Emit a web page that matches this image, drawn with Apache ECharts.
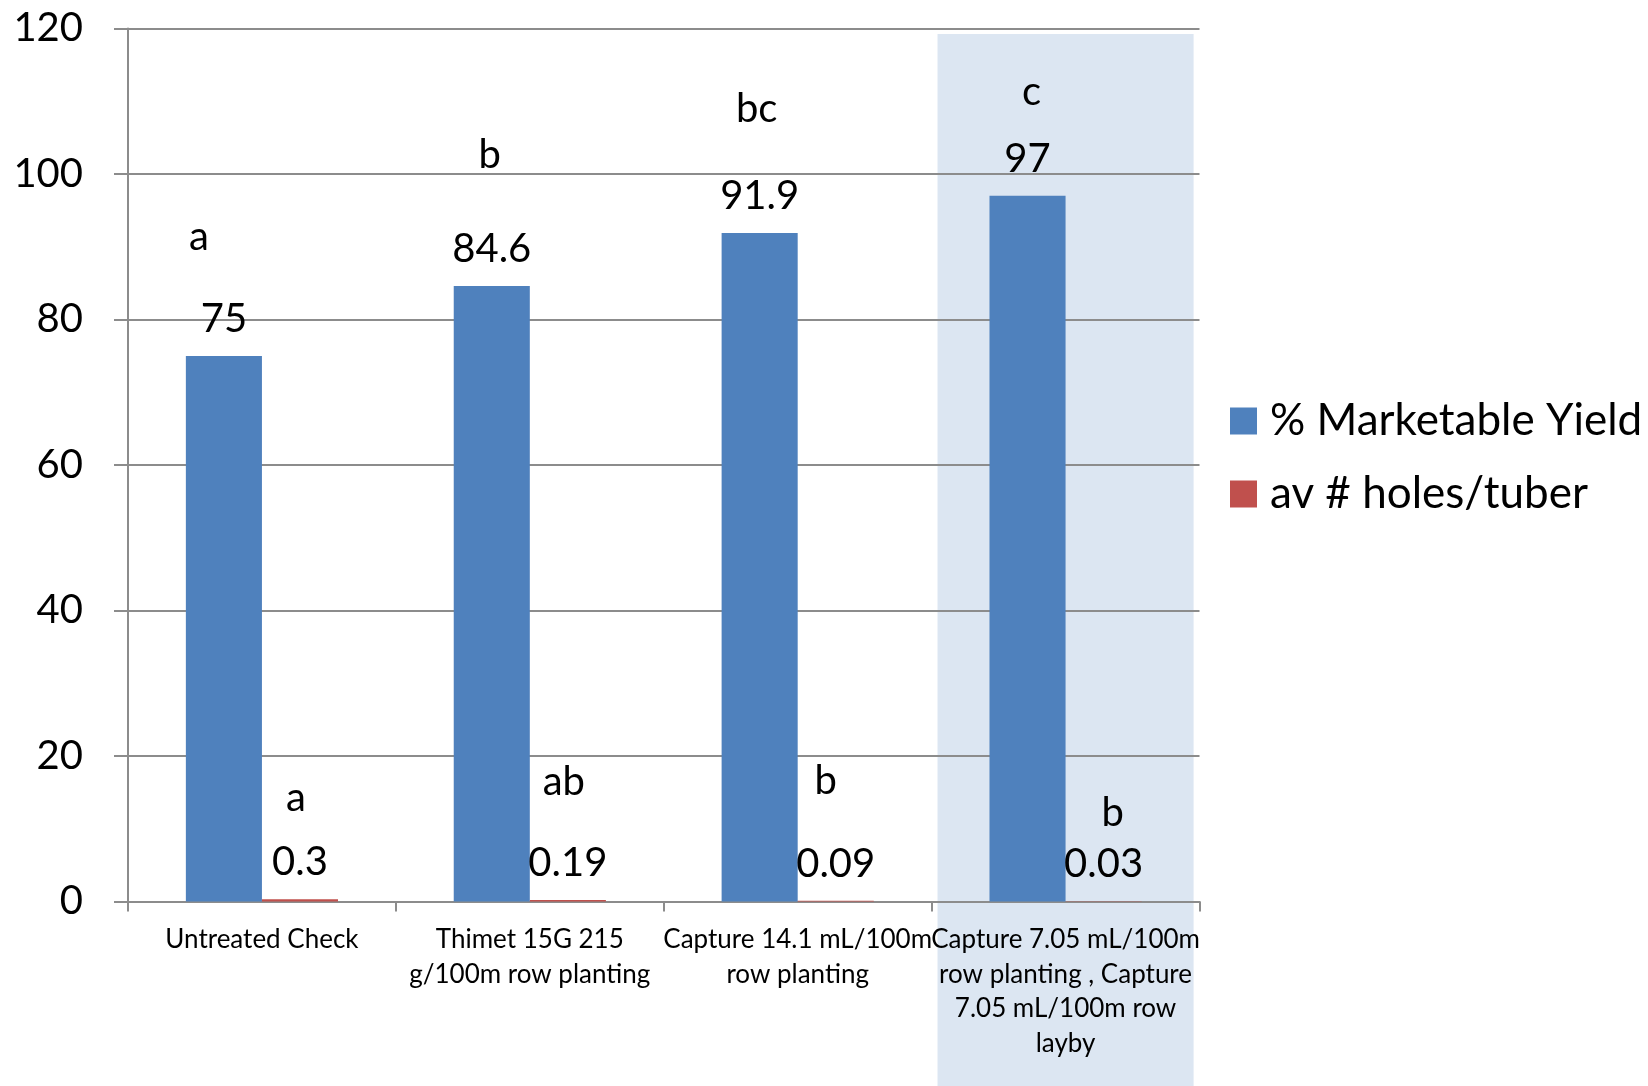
<!DOCTYPE html>
<html>
<head>
<meta charset="utf-8">
<script src="https://cdn.jsdelivr.net/npm/echarts@6/dist/echarts.min.js"></script>
<style>
  html, body { margin: 0; padding: 0; background: #ffffff; }
  #chart { width: 1648px; height: 1086px; }
</style>
</head>
<body>
<div id="chart"></div>
<script>
// ---- data ----
const categories = [
  'Untreated Check',
  'Thimet 15G 215\ng/100m row planting',
  'Capture 14.1 mL/100m\nrow planting',
  'Capture 7.05 mL/100m\nrow planting , Capture\n7.05 mL/100m row\nlayby'
];
const seriesNames = ['% Marketable Yield', 'av # holes/tuber'];
const yieldValues = [75, 84.6, 91.9, 97];
const holesValues = [0.3, 0.19, 0.09, 0.03];
const yieldLetters = ['a', 'b', 'bc', 'c'];
const holesLetters = ['a', 'ab', 'b', 'b'];
const yMin = 0, yMax = 120, yInterval = 20;

// ---- layout (pixel shifts of the significance letters relative to their value label baseline) ----
const yieldLetterShift = [[-25, -82], [-2, -94], [-3, -87], [4, -67]];
const holesLetterShift = [[-4, -64], [-4, -81], [-10, -83], [9, -51]];

const FONT = 'Lato';
const GRID = { left: 128, right: 448.5, top: 28.5, bottom: 184.5 };
const barRatio = 0.284;
const LABEL_FS = 40, LABEL_LH = 40, LABEL_DIST = 17;
const BASE_TO_MID = 12.9; // baseline sits this far below the line middle

function letterMarks(values, letters, shifts) {
  return values.map((v, i) => ({
    name: letters[i],
    coord: [categories[i], v],
    label: {
      offset: [shifts[i][0], -LABEL_DIST - LABEL_LH / 2 + shifts[i][1]]
    }
  }));
}

const markBase = {
  symbol: 'rect',
  symbolSize: 1,
  silent: true,
  itemStyle: { color: 'rgba(0,0,0,0)' },
  label: {
    show: true,
    position: 'inside',
    formatter: p => p.name,
    color: '#000',
    fontFamily: FONT,
    fontSize: LABEL_FS,
    lineHeight: LABEL_LH
  },
  emphasis: { disabled: true }
};

const valueLabel = {
  show: true,
  position: 'top',
  distance: LABEL_DIST,
  color: '#000',
  fontFamily: FONT,
  fontSize: LABEL_FS,
  lineHeight: LABEL_LH
};

const chart = echarts.init(document.getElementById('chart'), null, { renderer: 'canvas' });

const option = {
  animation: false,
  backgroundColor: '#ffffff',
  textStyle: { fontFamily: FONT },
  grid: Object.assign({ containLabel: false }, GRID),
  legend: {
    orient: 'vertical',
    left: 1230,
    top: 398,
    padding: 0,
    itemWidth: 27,
    itemHeight: 27,
    itemGap: 27,
    icon: 'rect',
    selectedMode: false,
    data: seriesNames,
    textStyle: { fontFamily: FONT, fontSize: 44, lineHeight: 46, color: '#000', padding: [0, 0, 0, 8] }
  },
  xAxis: {
    type: 'category',
    data: categories,
    boundaryGap: true,
    axisLine: { show: true, lineStyle: { color: '#8c8c8c', width: 2 } },
    axisTick: { show: true, alignWithLabel: false, length: 10, lineStyle: { color: '#8c8c8c', width: 2 } },
    axisLabel: {
      interval: 0,
      hideOverlap: false,
      margin: 21,
      color: '#000',
      fontFamily: FONT,
      fontSize: 26,
      lineHeight: 34.5,
      align: 'center'
    },
    splitLine: { show: false }
  },
  yAxis: {
    type: 'value',
    min: yMin,
    max: yMax,
    interval: yInterval,
    axisLine: { show: true, lineStyle: { color: '#8c8c8c', width: 2 } },
    axisTick: { show: true, length: 14, lineStyle: { color: '#8c8c8c', width: 2 } },
    axisLabel: { margin: 45, color: '#000', fontFamily: FONT, fontSize: 40 },
    splitLine: { show: true, lineStyle: { color: '#8c8c8c', width: 2 } }
  },
  series: [
    {
      name: seriesNames[0],
      type: 'bar',
      data: yieldValues,
      barWidth: (barRatio * 100) + '%',
      barGap: '0%',
      itemStyle: { color: '#4F81BD' },
      label: valueLabel,
      emphasis: { disabled: true },
      markPoint: Object.assign({}, markBase, { data: letterMarks(yieldValues, yieldLetters, yieldLetterShift) })
    },
    {
      name: seriesNames[1],
      type: 'bar',
      data: holesValues,
      barWidth: (barRatio * 100) + '%',
      barGap: '0%',
      itemStyle: { color: '#C0504D' },
      label: valueLabel,
      emphasis: { disabled: true },
      markPoint: Object.assign({}, markBase, { data: letterMarks(holesValues, holesLetters, holesLetterShift) })
    }
  ]
};

chart.setOption(option);

// shaded highlight behind the last category, placed with the chart's own scales
const cLast = chart.convertToPixel({ xAxisIndex: 0 }, categories[categories.length - 1]);
const cPrev = chart.convertToPixel({ xAxisIndex: 0 }, categories[categories.length - 2]);
const band = cLast - cPrev;
const yTopPx = chart.convertToPixel({ yAxisIndex: 0 }, yMax);
const shadeHalf = band * 0.478;
chart.setOption({
  graphic: [{
    type: 'rect',
    z: -10,
    silent: true,
    shape: { x: cLast - shadeHalf, y: yTopPx + 5.5, width: shadeHalf * 2, height: 1086 - (yTopPx + 5.5) },
    style: { fill: '#DCE6F2' }
  }]
});
</script>
</body>
</html>
